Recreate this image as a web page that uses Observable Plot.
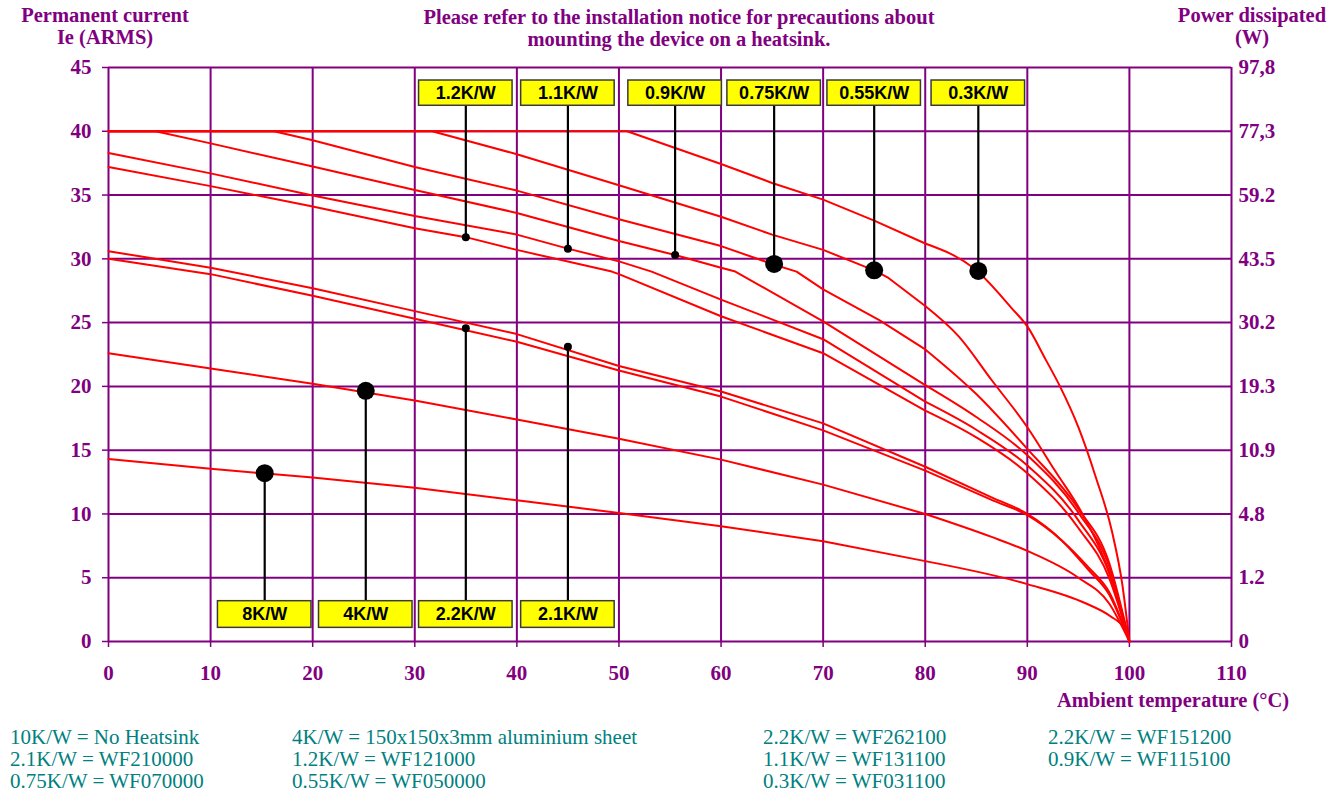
<!DOCTYPE html>
<html><head><meta charset="utf-8">
<script src="https://cdn.jsdelivr.net/npm/d3@7"></script>
<script src="https://cdn.jsdelivr.net/npm/@observablehq/plot@0.6"></script>
<style>
body{margin:0;background:#fff;}
#wrap{position:relative;width:1342px;height:793px;overflow:hidden;font-family:"Liberation Serif",serif;background:#fff;}
.t{position:absolute;color:#800080;font-weight:bold;text-align:center;white-space:nowrap;font-size:20.5px;line-height:22px;}
.leg{position:absolute;color:#008080;font-size:21px;line-height:22px;white-space:pre;}
#chart{position:absolute;left:0;top:0;}
</style></head><body>
<div id="wrap">
  <div id="chart"></div>
  <div class="t" style="left:-45px;width:300px;top:4px">Permanent current<br>Ie (ARMS)</div>
  <div class="t" style="left:329px;width:700px;top:6px">Please refer to the installation notice for precautions about<br>mounting the device on a heatsink.</div>
  <div class="t" style="left:1102px;width:300px;top:4px">Power dissipated<br>(W)</div>
  <div class="t" style="left:1023px;width:300px;top:689px">Ambient temperature (°C)</div>
  <div id="legend"></div>
</div>
<script>
// ---- data ----
const xTicks = [0, 10, 20, 30, 40, 50, 60, 70, 80, 90, 100, 110];
const yTicks = [0, 5, 10, 15, 20, 25, 30, 35, 40, 45];
const powerLabels = ["0", "1.2", "4.8", "10.9", "19.3", "30.2", "43.5", "59.2", "77,3", "97,8"];

const seriesNames = ["8K/W", "4K/W", "2.2K/W", "2.1K/W", "1.2K/W", "1.1K/W", "0.9K/W", "0.75K/W", "0.55K/W", "0.3K/W"];
const curve8K = [[0,14.3],[10,13.55],[20,12.85],[30,12.06],[40,11.07],[50,10.08],[60,9.03],[70,7.86],[80,6.3],[90,4.5],[95.7,3.0],[98.1,2.0],[99.5,1.0],[100,0]];
const curve4K = [[0,22.6],[10,21.4],[20,20.2],[30,18.9],[40,17.4],[50,15.9],[60,14.26],[70,12.3],[80,10.0],[86.5,8.2],[90,7.1],[95,5.0],[98,3.0],[100,0]];
const curve22K = [[0,30.0],[10,28.8],[20,27.1],[30,25.3],[40,23.5],[50,21.25],[60,19.2],[70,16.55],[80,13.4],[86.5,11.1],[90,9.9],[93.4,7.9],[96,5.8],[98,3.9],[100,0]];
const curve21K = [[0,30.6],[10,29.3],[20,27.7],[30,25.9],[40,24.1],[50,21.6],[60,19.6],[70,17.1],[80,13.7],[86.5,11.3],[90,10.0],[93.4,7.9],[96,5.6],[98,3.7],[100,0]];
const curve12K = [[0,37.2],[10,35.7],[20,34.1],[30,32.4],[35,31.7],[40,30.7],[49.3,29.0],[50,28.8],[60,25.5],[70,22.6],[80,18.1],[85,16.0],[90,13.2],[95,8.9],[98,5.0],[100,0]];
const curve11K = [[0,38.3],[10,36.7],[20,34.96],[30,33.35],[40,31.9],[45,30.8],[50,29.8],[53.2,29.0],[60,26.8],[70,23.7],[80,18.8],[85,16.6],[90,13.8],[95,9.5],[98,5.4],[100,0]];
const curve09K = [[0,40],[4.6,40],[10,39.05],[20,37.24],[30,35.4],[40,33.6],[50,31.4],[55.5,30.3],[60,29.3],[61.4,29.0],[70,25.1],[80,20.1],[85,17.6],[90,14.6],[95,10.1],[98,5.9],[100,0]];
const curve075K = [[0,40],[16.2,40],[20,39.3],[30,37.2],[40,35.35],[50,33.1],[60,31.0],[65,29.6],[67.4,29.0],[70,27.6],[75.5,25.2],[80,22.9],[85,19.4],[90,15.1],[95,10.4],[98,6.2],[100,0]];
const curve055K = [[0,40],[31.7,40],[40,38.2],[50,35.77],[60,33.3],[65,31.9],[70,30.7],[75,29.1],[76.4,28.5],[80,26.3],[83.3,23.9],[86.5,20.5],[90,16.8],[92.7,13.4],[95.4,10.0],[98,5.5],[100,0]];
const curve03K = [[0,40],[50.8,40],[60,37.44],[65,35.95],[70,34.64],[75,33.0],[80,31.2],[85,29.1],[88.5,26.1],[90,24.7],[91.8,22.1],[93.2,20.0],[95,16.8],[96.7,12.9],[98.3,8.6],[99.3,4.5],[100,0]];
const curves = [curve8K, curve4K, curve22K, curve21K, curve12K, curve11K, curve09K, curve075K, curve055K, curve03K];

const topLabels = ["1.2K/W", "1.1K/W", "0.9K/W", "0.75K/W", "0.55K/W", "0.3K/W"];
const topTemps = [35, 45, 55.5, 65.2, 75, 85.2];
const topCurrents = [31.7, 30.8, 30.3, 29.6, 29.1, 29.05];
const bottomLabels = ["8K/W", "4K/W", "2.2K/W", "2.1K/W"];
const bottomTemps = [15.3, 25.2, 35, 45];
const bottomCurrents = [13.2, 19.65, 24.55, 23.1];

const legendCol1 = ["10K/W = No Heatsink", "2.1K/W = WF210000", "0.75K/W = WF070000"];
const legendCol2 = ["4K/W = 150x150x3mm aluminium sheet", "1.2K/W = WF121000", "0.55K/W = WF050000"];
const legendCol3 = ["2.2K/W = WF262100", "1.1K/W = WF131100", "0.3K/W = WF031100"];
const legendCol4 = ["2.2K/W = WF151200", "0.9K/W = WF115100"];

// ---- build tables ----
// straight segments up to 80 °C, smooth tail from 80 °C to the 100 °C limit
const SPLIT = 80;
const headRows = curves.flatMap((c, k) => c.filter(([t]) => t <= SPLIT).map(([t, i]) => ({k: seriesNames[k], t, i})));
const tailRows = curves.flatMap((c, k) => c.filter(([t]) => t >= SPLIT).map(([t, i]) => ({k: seriesNames[k], t, i})));
const bigMarkers = new Set(["0.75K/W", "0.55K/W", "0.3K/W", "8K/W", "4K/W"]);
const markers = [
  ...topLabels.map((name, j) => ({name, t: topTemps[j], i: topCurrents[j], side: "top"})),
  ...bottomLabels.map((name, j) => ({name, t: bottomTemps[j], i: bottomCurrents[j], side: "bottom"}))
];
const BOX_HALF = 4.58;
const TOP_BOX = [42.0, 43.98], BOT_BOX = [1.07, 3.16];
markers.forEach(m => {
  const b = m.side === "top" ? TOP_BOX : BOT_BOX;
  m.x1 = m.t - BOX_HALF; m.x2 = m.t + BOX_HALF; m.y1 = b[0]; m.y2 = b[1]; m.yc = (b[0] + b[1]) / 2;
  m.stemEnd = m.side === "top" ? b[0] : b[1];
});
const bigDots = markers.filter(m => bigMarkers.has(m.name));
const smallDots = markers.filter(m => !bigMarkers.has(m.name));

const PURPLE = "#800080";
const chart = Plot.plot({
  width: 1342, height: 715,
  marginLeft: 108, marginRight: 111, marginTop: 67, marginBottom: 74,
  x: {domain: [0, 110]},
  y: {domain: [0, 45]},
  style: {fontFamily: "Liberation Serif", fontWeight: "bold", fontSize: "21px", color: PURPLE, background: "transparent", overflow: "visible"},
  marks: [
    Plot.gridX(xTicks, {stroke: PURPLE, strokeOpacity: 1, strokeWidth: 2}),
    Plot.gridY(yTicks, {stroke: PURPLE, strokeOpacity: 1, strokeWidth: 2}),
    Plot.axisX(xTicks, {tickSize: 6, tickPadding: 18, label: null, stroke: PURPLE, fill: PURPLE, strokeWidth: 1.5}),
    Plot.axisY(yTicks, {anchor: "left", tickSize: 6, tickPadding: 11, label: null, stroke: PURPLE, fill: PURPLE, strokeWidth: 1.5}),
    Plot.axisY(yTicks, {anchor: "right", tickSize: 0, tickPadding: 7, label: null, fill: PURPLE, tickFormat: d => powerLabels[yTicks.indexOf(d)]}),
    Plot.line(headRows, {x: "t", y: "i", z: "k", stroke: "#ff0000", strokeWidth: 2, strokeLinejoin: "round"}),
    Plot.line(tailRows, {x: "t", y: "i", z: "k", stroke: "#ff0000", strokeWidth: 2, curve: "monotone-x"}),
    Plot.link(markers, {x1: "t", x2: "t", y1: "i", y2: "stemEnd", stroke: "black", strokeWidth: 2.2}),
    Plot.rect(markers, {x1: "x1", x2: "x2", y1: "y1", y2: "y2", fill: "#ffff00", stroke: "#3a3a3a", strokeWidth: 1.5}),
    Plot.text(markers, {x: "t", y: "yc", text: "name", fill: "black", fontFamily: "Liberation Sans", fontWeight: "bold", fontSize: 18}),
    Plot.dot(bigDots, {x: "t", y: "i", r: 9, fill: "black", stroke: "none"}),
    Plot.dot(smallDots, {x: "t", y: "i", r: 4, fill: "black", stroke: "none"})
  ]
});
document.getElementById("chart").appendChild(chart);

const leg = document.getElementById("legend");
[[legendCol1, 10], [legendCol2, 292], [legendCol3, 763], [legendCol4, 1048]].forEach(([col, x]) => {
  const d = document.createElement("div");
  d.className = "leg";
  d.style.left = x + "px";
  d.style.top = "726px";
  d.textContent = col.join("\n");
  leg.appendChild(d);
});
</script>
</body></html>
